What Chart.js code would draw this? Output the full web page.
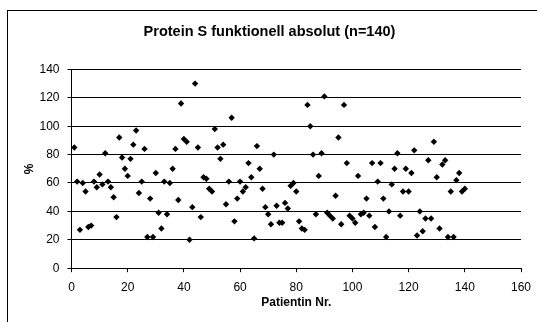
<!DOCTYPE html>
<html>
<head>
<meta charset="utf-8">
<title>Protein S funktionell absolut</title>
<script src="https://cdn.jsdelivr.net/npm/chart.js@4/dist/chart.umd.min.js"></script>
<style>
  html, body { margin: 0; padding: 0; background: #fff; overflow: hidden; }
  /* chart area frame, runs past the right and bottom edge of the window */
  #frame {
    position: absolute; left: 7px; top: 10px;
    width: 536px; height: 330px;
    border: 1px solid #000; box-sizing: border-box; background: #fff;
  }
  #chart { display: block; }
</style>
</head>
<body>
<div id="frame"><canvas id="chart" width="534" height="328"></canvas></div>
<script>
const chartTitle = 'Protein S funktionell absolut (n=140)';
const xAxisTitle = 'Patientin Nr.';
const yAxisTitle = '%';

const xTicks = [0, 20, 40, 60, 80, 100, 120, 140, 160];
const yTicks = [0, 20, 40, 60, 80, 100, 120, 140];

// Protein S activity in %, patient 1..140 in order
const proteinS = [
  85, 61, 27, 60, 54, 29, 30, 61, 57, 66,
  59, 81, 61, 57, 50, 36, 92, 78, 70, 65,
  77, 87, 97, 53, 61, 84, 22, 49, 22, 67,
  39, 28, 61, 38, 60, 70, 84, 48, 116, 91,
  89, 20, 43, 130, 85, 36, 64, 63, 56, 54,
  98, 85, 77, 87, 45, 61, 106, 33, 49, 61,
  54, 57, 74, 64, 21, 86, 70, 56, 43, 38,
  31, 80, 44, 32, 32, 46, 42, 58, 60, 54,
  33, 28, 27, 115, 100, 80, 38, 65, 81, 121,
  39, 37, 35, 51, 92, 31, 115, 74, 37, 35,
  32, 65, 38, 39, 49, 37, 74, 29, 61, 74,
  49, 22, 40, 59, 70, 81, 37, 54, 70, 54,
  67, 83, 23, 40, 26, 35, 76, 35, 89, 64,
  28, 73, 76, 22, 54, 22, 62, 67, 54, 56
];

Chart.defaults.font.family = 'Arial, "Liberation Sans", sans-serif';
Chart.defaults.color = '#000';

const points = proteinS.map((v, i) => ({ x: i + 1, y: v }));

new Chart(document.getElementById('chart'), {
  type: 'scatter',
  data: {
    datasets: [{
      data: points,
      pointStyle: 'rectRot',
      pointRadius: 3.2,
      pointHoverRadius: 3.2,
      backgroundColor: '#000',
      borderColor: '#000',
      borderWidth: 0
    }]
  },
  options: {
    responsive: false,
    animation: false,
    devicePixelRatio: 1,
    events: [],
    layout: { padding: { top: 0, left: 10, right: 21, bottom: 0 } },
    plugins: {
      legend: { display: false },
      tooltip: { enabled: false },
      title: {
        display: true,
        text: chartTitle,
        font: { size: 14.5, weight: 'bold' },
        padding: { top: 12, bottom: 29 }
      }
    },
    scales: {
      x: {
        type: 'linear',
        min: 0,
        max: 160,
        afterBuildTicks: s => { s.ticks = xTicks.map(v => ({ value: v })); },
        afterFit: s => { s.height = 70.8; },
        ticks: { font: { size: 12 }, padding: 8, maxRotation: 0 },
        grid: { drawOnChartArea: false, tickLength: 4, tickColor: '#000' },
        border: { color: '#000', width: 1 },
        title: {
          display: true,
          text: xAxisTitle,
          font: { size: 12, weight: 'bold' },
          padding: { top: 0, bottom: 29 }
        }
      },
      y: {
        min: 0,
        max: 140,
        afterBuildTicks: s => { s.ticks = yTicks.map(v => ({ value: v })); },
        afterFit: s => { s.width = 53.5; },
        ticks: { font: { size: 12 }, padding: 8 },
        grid: { color: '#000', lineWidth: 1, tickLength: 4, tickColor: '#000' },
        border: { color: '#000', width: 1 },
        title: {
          display: true,
          text: yAxisTitle,
          font: { size: 12, weight: 'bold' },
          padding: { top: 4, bottom: 4 }
        }
      }
    }
  }
});
</script>
</body>
</html>
